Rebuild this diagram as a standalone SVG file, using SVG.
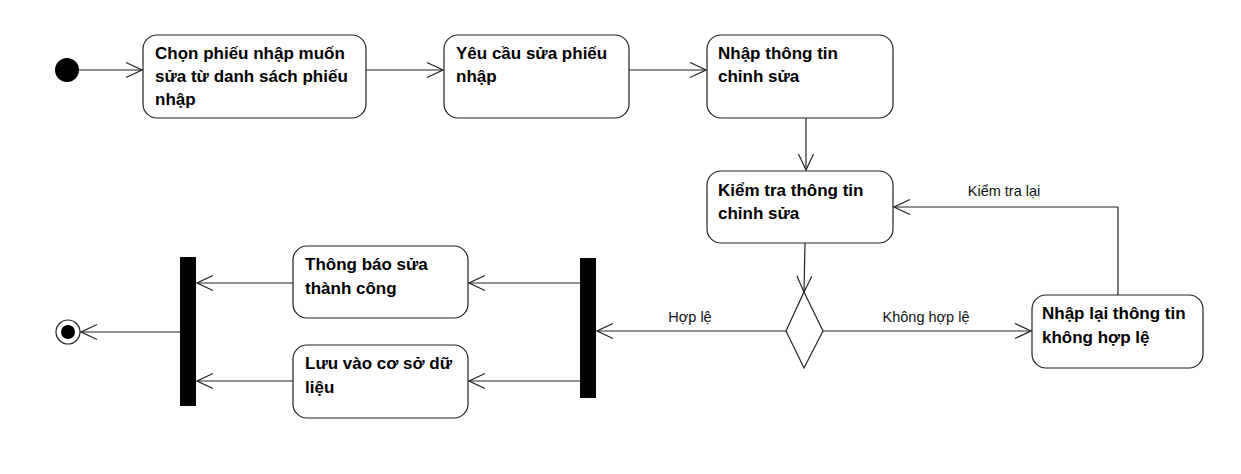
<svg xmlns="http://www.w3.org/2000/svg" width="1241" height="474" viewBox="0 0 1241 474">
<style>
.box{fill:#fff;stroke:#222;stroke-width:1.2}
.t{font-family:"Liberation Sans",Arial,sans-serif;font-size:17px;font-weight:bold;fill:#000}
.lbl{font-family:"Liberation Sans",Arial,sans-serif;font-size:14.5px;fill:#111}
.c{fill:none;stroke:#222;stroke-width:1.2}
.bar{fill:#000}
</style>
<defs>
<marker id="arr" markerWidth="18" markerHeight="18" refX="17" refY="9" orient="auto" markerUnits="userSpaceOnUse">
<path d="M1,1.5 L17,9 L1,16.5" fill="none" stroke="#222" stroke-width="1.2"/>
</marker>
</defs>
<rect width="1241" height="474" fill="#fff"/>
<g id="connectors">
<line class="c" x1="79" y1="70" x2="142" y2="70" marker-end="url(#arr)"/>
<line class="c" x1="366" y1="70" x2="443" y2="70" marker-end="url(#arr)"/>
<line class="c" x1="629" y1="70" x2="706" y2="70" marker-end="url(#arr)"/>
<line class="c" x1="806" y1="118" x2="806" y2="170" marker-end="url(#arr)"/>
<line class="c" x1="805" y1="243" x2="804" y2="292" marker-end="url(#arr)"/>
<line class="c" x1="786" y1="331" x2="597" y2="331" marker-end="url(#arr)"/>
<line class="c" x1="823" y1="331" x2="1031" y2="331" marker-end="url(#arr)"/>
<polyline class="c" points="1118,295 1118,207 894,207" marker-end="url(#arr)"/>
<line class="c" x1="580" y1="283" x2="469" y2="283" marker-end="url(#arr)"/>
<line class="c" x1="580" y1="381" x2="469" y2="381" marker-end="url(#arr)"/>
<line class="c" x1="293" y1="283" x2="197" y2="283" marker-end="url(#arr)"/>
<line class="c" x1="293" y1="381" x2="197" y2="381" marker-end="url(#arr)"/>
<line class="c" x1="180" y1="332" x2="81" y2="332" marker-end="url(#arr)"/>
<text class="lbl" x="690" y="322" text-anchor="middle">Hợp lệ</text>
<text class="lbl" x="926" y="322" text-anchor="middle">Không hợp lệ</text>
<text class="lbl" x="1004" y="196" text-anchor="middle">Kiểm tra lại</text>
</g>
<g id="start"><circle cx="67" cy="70" r="12" fill="#000"/></g>
<g id="n1">
<rect class="box" x="143" y="35" width="223" height="83" rx="14"/>
<text class="t" x="155" y="59">Chọn phiếu nhập muốn</text>
<text class="t" x="155" y="82">sửa từ danh sách phiếu</text>
<text class="t" x="155" y="105">nhập</text>
</g>
<g id="n2">
<rect class="box" x="444" y="35" width="185" height="83" rx="14"/>
<text class="t" x="456" y="59">Yêu cầu sửa phiếu</text>
<text class="t" x="456" y="82">nhập</text>
</g>
<g id="n3">
<rect class="box" x="707" y="35" width="186" height="83" rx="14"/>
<text class="t" x="718" y="59">Nhập thông tin</text>
<text class="t" x="718" y="82">chỉnh sửa</text>
</g>
<g id="n4">
<rect class="box" x="707" y="171" width="186" height="72" rx="14"/>
<text class="t" x="718" y="196">Kiểm tra thông tin</text>
<text class="t" x="718" y="219">chỉnh sửa</text>
</g>
<g id="decision"><polygon class="box" points="804,292 823,331 804,368 786,331"/></g>
<g id="n5">
<rect class="box" x="1032" y="295" width="171" height="73" rx="14"/>
<text class="t" x="1042" y="319">Nhập lại thông tin</text>
<text class="t" x="1042" y="343">không hợp lệ</text>
</g>
<g id="fork"><rect class="bar" x="580" y="258" width="16" height="140"/></g>
<g id="n6">
<rect class="box" x="293" y="246" width="175" height="72" rx="14"/>
<text class="t" x="305" y="270">Thông báo sửa</text>
<text class="t" x="305" y="294">thành công</text>
</g>
<g id="n7">
<rect class="box" x="293" y="345" width="175" height="73" rx="14"/>
<text class="t" x="305" y="369">Lưu vào cơ sở dữ</text>
<text class="t" x="305" y="393">liệu</text>
</g>
<g id="join"><rect class="bar" x="180" y="257" width="16" height="149"/></g>
<g id="end">
<circle cx="68" cy="332" r="12" fill="#fff" stroke="#222" stroke-width="1.2"/>
<circle cx="68" cy="332" r="7" fill="#000"/>
</g>
</svg>
